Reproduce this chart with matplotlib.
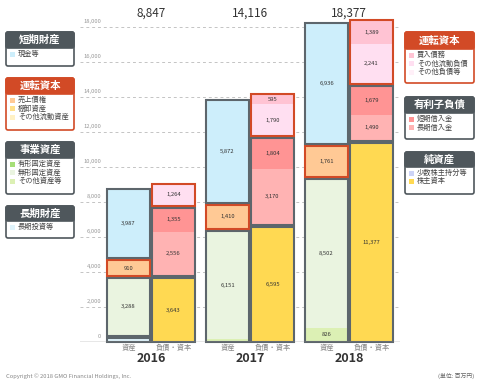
import numpy as np
import matplotlib.pyplot as plt
from matplotlib.patches import FancyBboxPatch, Rectangle
from matplotlib.transforms import blended_transform_factory

plt.rcParams['font.family'] = ['Noto Sans CJK JP', 'DejaVu Sans']

# data (百万円)
years = ['2016', '2017', '2018']
totals = [8847, 14116, 18377]

# asset side
long_inv = [250, 0, 0]
other_assets = [0, 180, 826]
intangible = [3288, 6151, 8502]
receivables = [910, 1410, 1761]
cash = [3987, 5872, 6936]

# liabilities & capital side
equity = [3643, 6595, 11377]
lt_debt = [2556, 3170, 1490]
st_debt = [1355, 1804, 1679]
other_cl = [1264, 1790, 2241]
payables = [0, 595, 1389]

GRAY = '#5d666c'
RED = '#d24a26'

c_cash = '#cdeefb'
c_long = '#dff3fb'
c_recv = '#ffc995'
c_intang = '#eaf4e0'
c_other_a = '#dcf0b4'
c_equity = '#ffd952'
c_lt = '#ffb3b3'
c_st = '#ff9494'
c_ocl = '#ffdff1'
c_pay = '#ffc3d3'

asset_groups = [
    ([long_inv], [c_long], GRAY),
    ([other_assets, intangible], [c_other_a, c_intang], GRAY),
    ([receivables], [c_recv], RED),
    ([cash], [c_cash], GRAY),
]
liab_groups = [
    ([equity], [c_equity], GRAY),
    ([lt_debt, st_debt], [c_lt, c_st], GRAY),
    ([other_cl, payables], [c_ocl, c_pay], RED),
]

fig = plt.figure(figsize=(4.8, 3.86), dpi=100)
ax = fig.add_axes([80 / 480, 1 - 342 / 386, 320 / 480, 323.75 / 386])
ax.set_xlim(-0.717, 2.515)
ax.set_ylim(0, 18500)

x = np.arange(len(years))
off = 0.227
w = 0.43
gap = 110


def draw_side(xpos, groups):
    for i in range(len(years)):
        base = 0
        for series, colors, ec in groups:
            vals = [s[i] for s in series]
            tot = sum(vals)
            if tot == 0:
                continue
            b = base
            for v, c in zip(vals, colors):
                if v == 0:
                    continue
                ax.bar(xpos[i], v, w, bottom=b, color=c, zorder=2)
                if v > 300:
                    ax.text(xpos[i], b + v / 2, f'{v:,}', ha='center', va='center',
                            fontsize=4.2, color='#333333', zorder=4)
                b += v
            ax.bar(xpos[i], tot, w, bottom=base, fill=False, edgecolor=ec,
                   linewidth=1.5, zorder=3, clip_on=False)
            base += tot + gap


draw_side(x - off, asset_groups)
draw_side(x + off, liab_groups)

# grid and axis
for t in range(2000, 18001, 2000):
    ax.axhline(t, color='#c4c4c4', lw=0.7, ls=(0, (3, 3)), zorder=1)
for t in range(0, 18001, 2000):
    ax.text(-0.5, t + 150, f'{t:,}', ha='right', va='bottom', fontsize=4.2, color='#999999')
ax.axhline(0, color='#888888', lw=1.0, zorder=5)
for s in ax.spines.values():
    s.set_visible(False)
ax.set_xticks([])
ax.set_yticks([])

tr = blended_transform_factory(ax.transData, ax.transAxes)
for i in range(len(years)):
    ax.text(x[i], 1.017, f'{totals[i]:,}', transform=tr, ha='center', va='center',
            fontsize=8.5, color='#333333')
    ax.text(x[i] - off, -0.018, '資産', transform=tr, ha='center', va='center',
            fontsize=5.2, color='#888888')
    ax.text(x[i] + off, -0.018, '負債・資本', transform=tr, ha='center', va='center',
            fontsize=5.2, color='#888888')
    ax.text(x[i], -0.05, years[i], transform=tr, ha='center', va='center',
            fontsize=9, fontweight='bold', color='#333333')

# legend boxes drawn in pixel space
ov = fig.add_axes([0, 0, 1, 1], facecolor='none')
ov.set_xlim(0, 480)
ov.set_ylim(386, 0)
ov.axis('off')


def legend_box(x0, y0, x1, hh, y1, title, col, items):
    ov.add_patch(FancyBboxPatch((x0, y0), x1 - x0, y1 - y0, boxstyle='round,pad=0,rounding_size=2',
                                facecolor='white', edgecolor=col, lw=1.2))
    ov.add_patch(FancyBboxPatch((x0, y0), x1 - x0, hh, boxstyle='round,pad=0,rounding_size=2',
                                facecolor=col, edgecolor=col, lw=1.2))
    ov.text((x0 + x1) / 2, y0 + hh / 2, title, ha='center', va='center', fontsize=7.5,
            fontweight='bold', color='white')
    yy = y0 + hh + 6
    for lab, c in items:
        ov.add_patch(Rectangle((x0 + 4, yy - 2.5), 5, 5, facecolor=c, edgecolor='none'))
        ov.text(x0 + 12, yy, lab, ha='left', va='center', fontsize=5.2, color='#444444')
        yy += 8.5


legend_box(6, 32, 74, 16, 66, '短期財産', '#4f575c', [('現金等', c_cash)])
legend_box(6, 78, 74, 16, 130, '運転資本', RED,
           [('売上債権', c_recv), ('棚卸資産', '#ffe08a'), ('その他流動資産', '#fff1c4')])
legend_box(6, 142, 74, 16, 194, '事業資産', '#4f575c',
           [('有形固定資産', '#a6df78'), ('無形固定資産', c_intang), ('その他資産等', c_other_a)])
legend_box(6, 206, 74, 15, 238, '長期財産', '#4f575c', [('長期投資等', c_long)])

legend_box(405, 32, 474, 17, 83, '運転資本', RED,
           [('買入債務', c_pay), ('その他流動負債', c_ocl), ('その他負債等', '#fff0f8')])
legend_box(405, 97, 474, 16, 139, '有利子負債', '#4f575c',
           [('短期借入金', c_st), ('長期借入金', c_lt)])
legend_box(405, 152, 474, 15, 194, '純資産', '#4f575c',
           [('少数株主持分等', '#ccd3f7'), ('株主資本', c_equity)])

ov.text(6, 376, 'Copyright © 2018 GMO Financial Holdings, Inc.', ha='left', va='center',
        fontsize=4.2, color='#888888')
ov.text(474, 376, '(単位: 百万円)', ha='right', va='center', fontsize=4.2, color='#666666')

fig.savefig('out.png', dpi=100)
